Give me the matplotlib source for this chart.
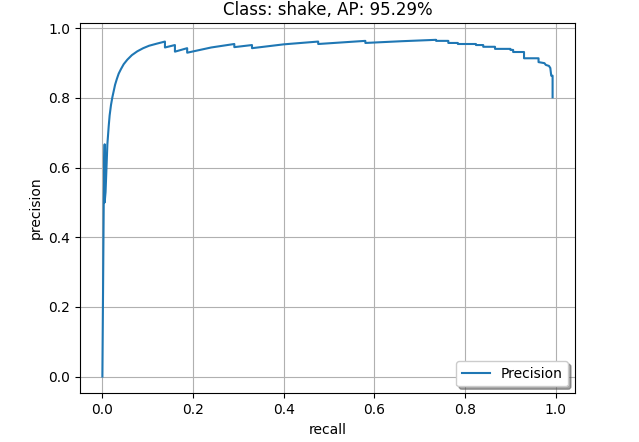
import matplotlib
matplotlib.use("Agg")
import matplotlib.pyplot as plt

class_name = "shake"
ap = 95.29

# (recall, precision) points
recall = [0.000, 0.003, 0.005, 0.005, 0.007, 0.011, 0.014, 0.016, 0.019,
          0.022, 0.025, 0.028, 0.032, 0.036, 0.041, 0.047, 0.055, 0.065,
          0.077, 0.090, 0.103, 0.120, 0.138, 0.138, 0.160,
          0.160, 0.187, 0.187, 0.240, 0.291, 0.291, 0.330, 0.330, 0.400,
          0.476, 0.476, 0.580, 0.580, 0.660, 0.736, 0.736, 0.763, 0.763,
          0.784, 0.784, 0.824, 0.824, 0.840, 0.840, 0.866, 0.866, 0.900,
          0.900, 0.906, 0.906, 0.930, 0.930, 0.962, 0.962, 0.975, 0.978,
          0.985, 0.988, 0.990, 0.993, 0.993]
precision = [0.000, 0.500, 0.667, 0.500, 0.530, 0.667, 0.720, 0.750, 0.780,
             0.802, 0.820, 0.838, 0.855, 0.870, 0.883, 0.897, 0.910, 0.923,
             0.934, 0.943, 0.950, 0.956, 0.962, 0.945, 0.952,
             0.933, 0.943, 0.930, 0.945, 0.955, 0.946, 0.952, 0.943, 0.954,
             0.962, 0.955, 0.964, 0.958, 0.963, 0.967, 0.964, 0.964, 0.958,
             0.958, 0.955, 0.955, 0.952, 0.952, 0.947, 0.947, 0.941, 0.941,
             0.938, 0.938, 0.932, 0.932, 0.914, 0.914, 0.903, 0.900, 0.895,
             0.892, 0.886, 0.864, 0.864, 0.802]

fig, ax = plt.subplots(figsize=(6.39, 4.42), dpi=100)
fig.subplots_adjust(left=0.125, right=0.9, bottom=0.11, top=0.948)

ax.plot(recall, precision, label="Precision")
ax.set_title(f"Class: {class_name}, AP: {ap:.2f}%")
ax.set_xlabel("recall")
ax.set_ylabel("precision")
ax.grid(True)
ax.legend(loc="lower right", shadow=True)

fig.savefig("out.png", dpi=100)
